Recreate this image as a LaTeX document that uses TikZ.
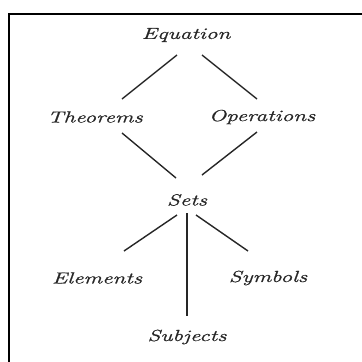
\documentclass[tikz,border=0pt]{standalone}
\usepackage{fontspec}
\newfontfamily\handfont[FakeStretch=1.45,FakeBold=0.8]{Latin Modern Roman}
\begin{document}
\begin{tikzpicture}[x=1pt,y=-1pt,
  lbl/.style={font=\handfont\itshape\fontsize{16}{17}\selectfont, text=black!85, inner sep=0pt},
  conn/.style={line width=1.4pt, black!85},
  frame/.style={line width=2pt, black}]
\useasboundingbox (0,0) rectangle (362,362);
\fill[white] (0,0) rectangle (362,362);
\draw[frame] (362,14) -- (9,14) -- (9,362);
\node[lbl] (eq) at (186,35) {Equation};
\node[lbl] (th) at (95,117) {Theorems};
\node[lbl] (op) at (262,117) {Operations};
\node[lbl] (sets) at (187,200) {Sets};
\node[lbl] (el) at (97,278) {Elements};
\node[lbl] (sy) at (268,278) {Symbols};
\node[lbl] (su) at (187,337) {Subjects};
\coordinate (eqL) at (177,55); \coordinate (thT) at (122,99);
\coordinate (eqR) at (202,55); \coordinate (opT) at (257,99);
\coordinate (thB) at (122,133); \coordinate (setsL) at (176,178);
\coordinate (opB) at (257,132); \coordinate (setsR) at (202,175);
\coordinate (setsBL) at (177,215); \coordinate (elT) at (124,251);
\coordinate (setsB) at (187,213); \coordinate (suT) at (187,316);
\coordinate (setsBR) at (196,215); \coordinate (syT) at (248,251);
\draw[conn] (eqL) -- (thT);
\draw[conn] (eqR) -- (opT);
\draw[conn] (thB) -- (setsL);
\draw[conn] (opB) -- (setsR);
\draw[conn] (setsBL) -- (elT);
\draw[conn] (setsB) -- (suT);
\draw[conn] (setsBR) -- (syT);
\end{tikzpicture}
\end{document}
